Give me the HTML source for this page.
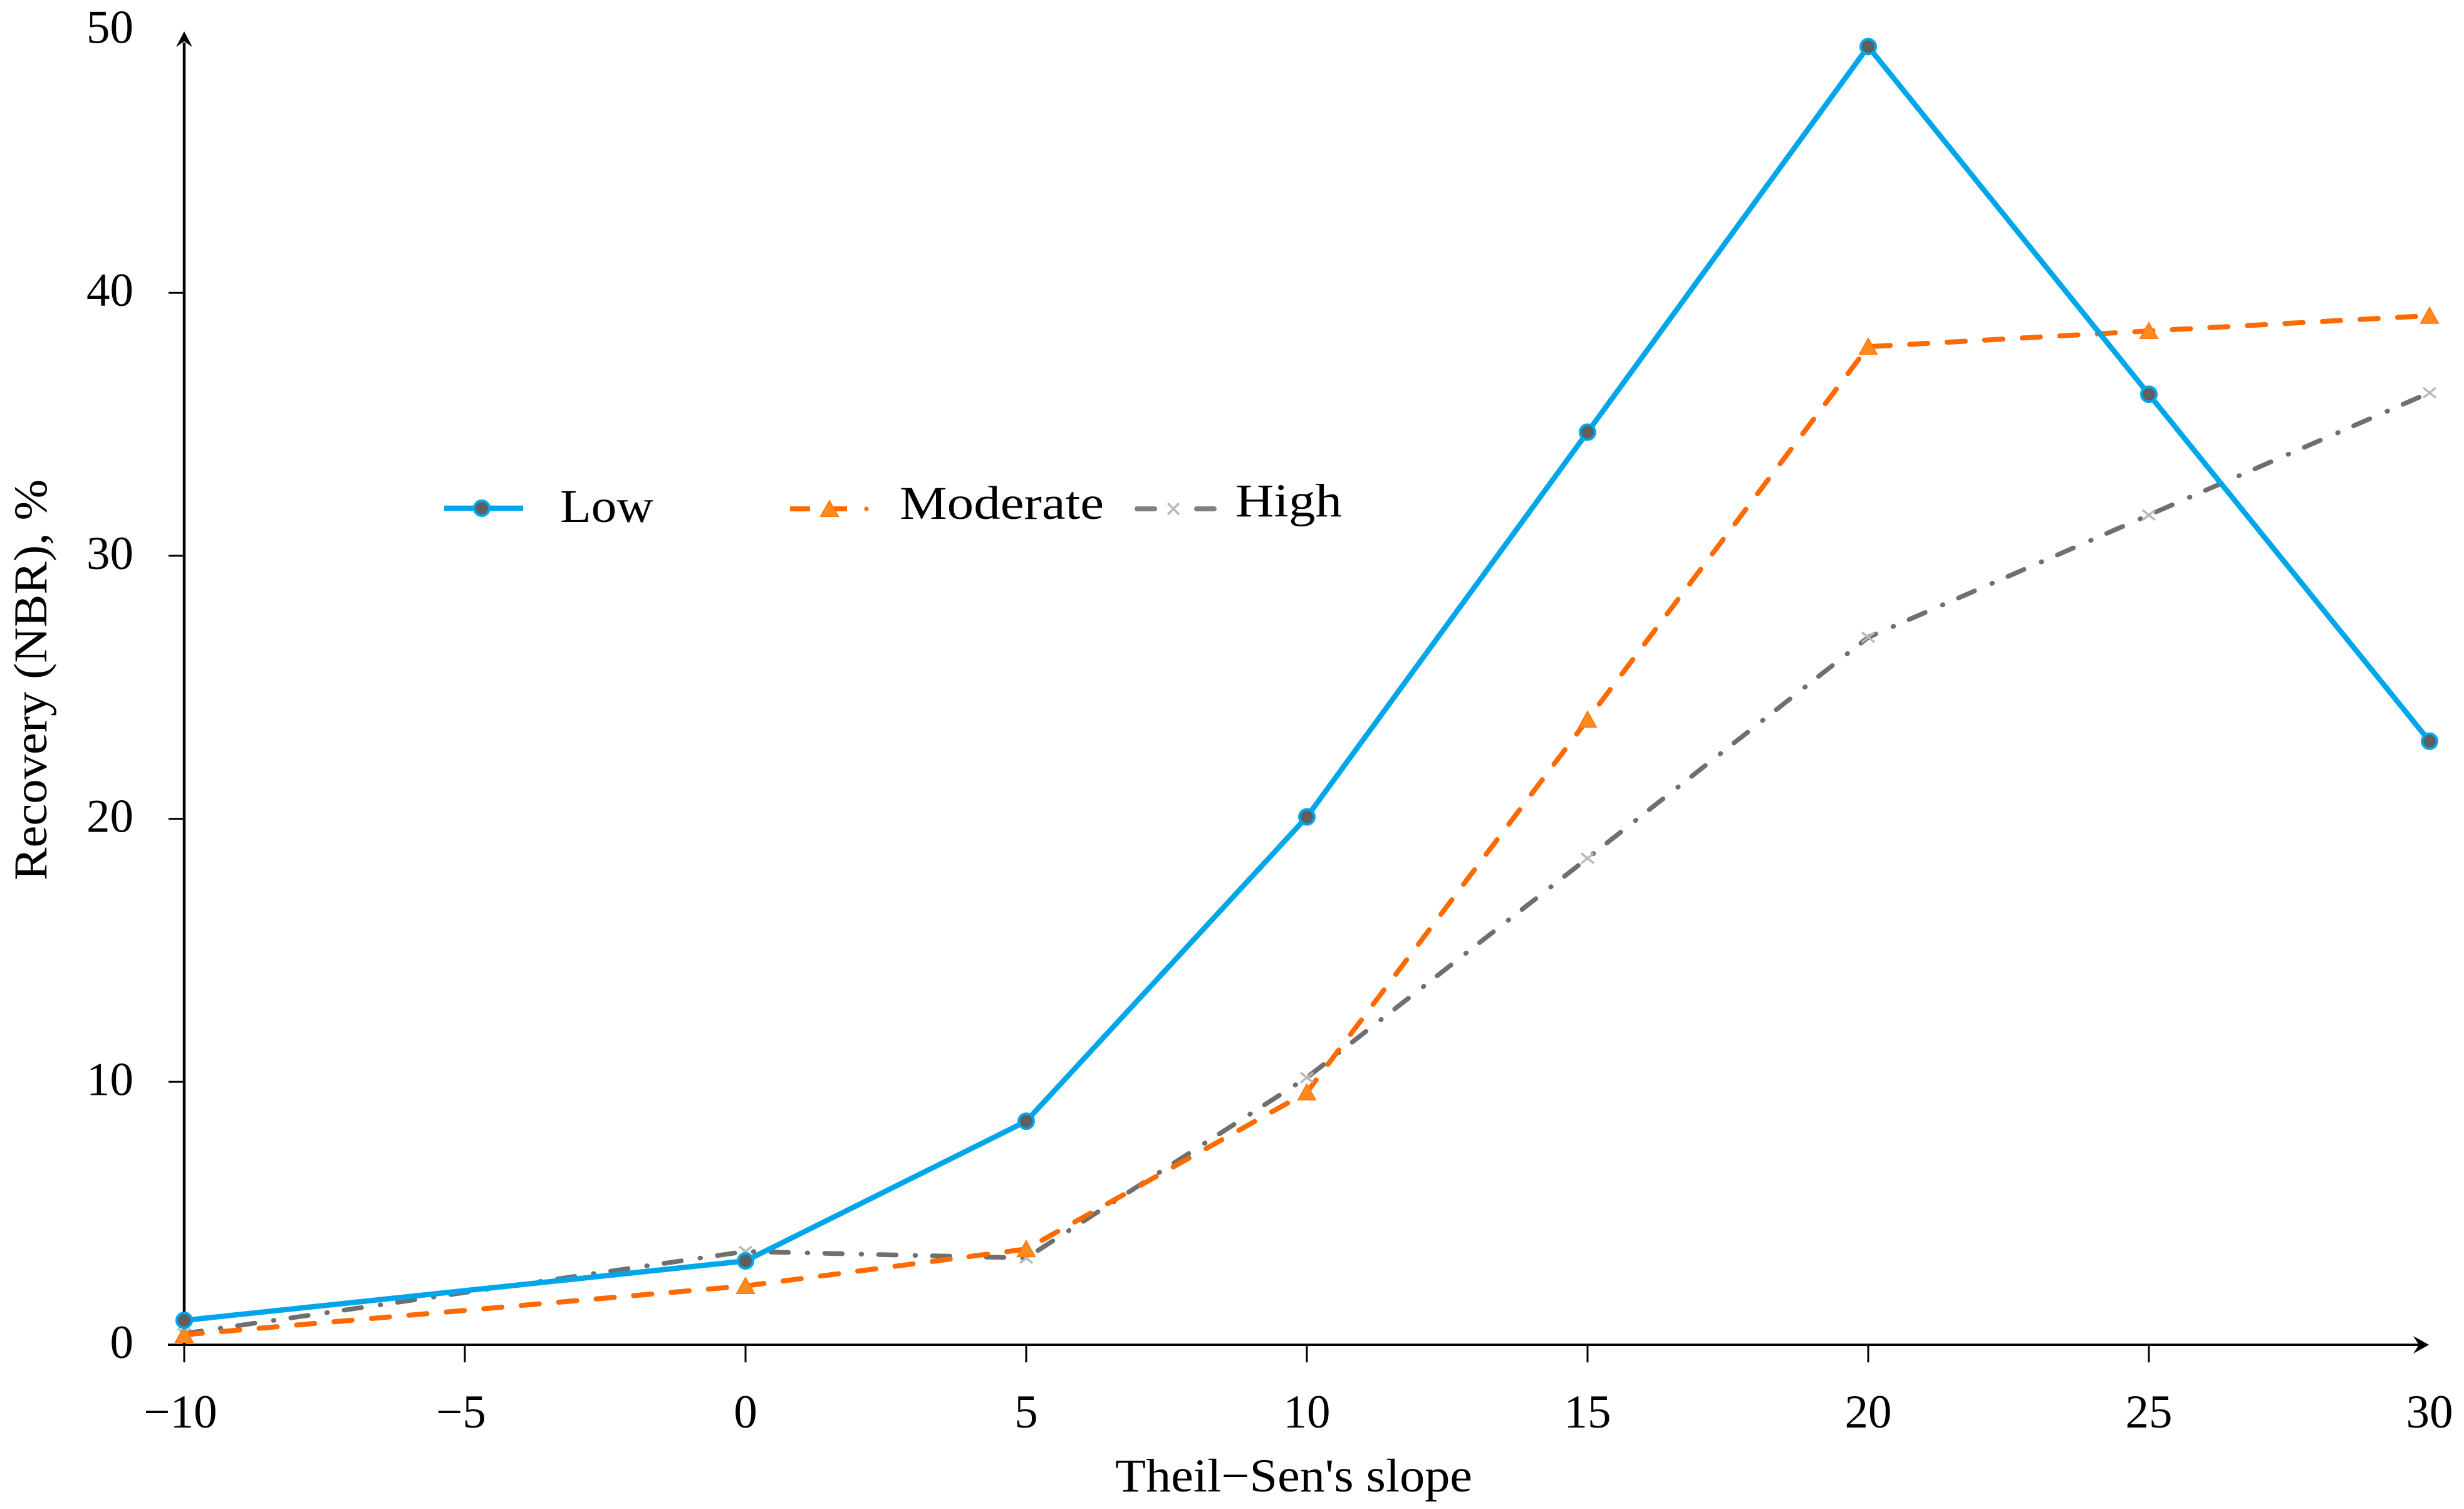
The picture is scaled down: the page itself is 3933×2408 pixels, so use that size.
<!DOCTYPE html>
<html lang="en">
<head>
<meta charset="utf-8">
<title>Recovery (NBR) vs Theil–Sen's slope</title>
<style>
  html, body { margin: 0; padding: 0; background: #ffffff; }
  body { width: 3933px; height: 2408px; overflow: hidden; }
  svg { display: block; }
  text { font-family: "Liberation Serif", serif; font-size: 75px; fill: #000000; }
</style>
</head>
<body>
<svg id="chart" xmlns="http://www.w3.org/2000/svg" width="3933" height="2408" viewBox="0 0 3933 2408">
  <rect x="0" y="0" width="3933" height="2408" fill="#ffffff"/>
  <g id="ticks"></g>
  <g id="tick-labels"></g>
  <line x1="294" y1="68" x2="294" y2="2148" stroke="#000" stroke-width="4.5"/>
  <polygon points="294,50 307,75 294,66 281,75" fill="#000"/>
  <line x1="268" y1="2146" x2="3862" y2="2146" stroke="#000" stroke-width="4"/>
  <polygon points="3877,2146 3852,2132 3861,2146 3852,2160" fill="#000"/>
  <g id="series"></g>
  <text x="1780" y="2380" textLength="570" lengthAdjust="spacingAndGlyphs">Theil−Sen's slope</text>
  <text transform="translate(74,1405) rotate(-90)" x="0" y="0" textLength="640" lengthAdjust="spacingAndGlyphs">Recovery (NBR), %</text>

  <g>
    <line x1="709" y1="811" x2="835" y2="811" stroke="#00a6ea" stroke-width="8.5"/>
    <circle cx="769" cy="811" r="12" fill="#5f5f5f" stroke="#00a6ea" stroke-width="4"/>
    <text x="894" y="833" textLength="149" lengthAdjust="spacingAndGlyphs">Low</text>
  </g>
  <g>
    <line x1="1261" y1="812" x2="1293" y2="812" stroke="#ff6a00" stroke-width="8"/>
    <line x1="1322" y1="812" x2="1352" y2="812" stroke="#ff6a00" stroke-width="8"/>
    <circle cx="1383" cy="812" r="3.5" fill="#ff6a00"/>
    <polygon points="1324,799 1338,824 1310,824" fill="#ff8a20" stroke="#ff7a10" stroke-width="2"/>
    <text x="1436" y="828" textLength="326" lengthAdjust="spacingAndGlyphs">Moderate</text>
  </g>
  <g>
    <line x1="1815" y1="812" x2="1843" y2="812" stroke="#7f7f7f" stroke-width="8" stroke-linecap="round"/>
    <line x1="1910" y1="812" x2="1938" y2="812" stroke="#7f7f7f" stroke-width="8" stroke-linecap="round"/>
    <path d="M1864,803 L1882,821 M1882,803 L1864,821" stroke="#b8b8b8" stroke-width="3.5" fill="none"/>
    <text x="1972" y="824" textLength="170" lengthAdjust="spacingAndGlyphs">High</text>
  </g>
</svg>
<script>
const slopeCategories = [-10, 0, 5, 10, 15, 20, 25, 30];
const lowValues = [0.93, 3.19, 8.5, 20.07, 34.7, 49.36, 36.14, 22.95];
const moderateValues = [0.38, 2.24, 3.64, 9.6, 23.77, 37.95, 38.55, 39.13];
const highValues = [0.43, 3.55, 3.3, 10.16, 18.5, 26.9, 31.55, 36.2];
const xTickValues = [-10, -5, 0, 5, 10, 15, 20, 25];
const xTickLabels = ['−10', '−5', '0', '5', '10', '15', '20', '25', '30'];
const xLabelValues = [-10, -5, 0, 5, 10, 15, 20, 25, 30];
const yTickValues = [0, 10, 20, 30, 40];
const yLabelValues = [0, 10, 20, 30, 40, 50];

function xScale(v) { return 294 + (v + 10) * 89.6; }
function yScale(v) { return 2146 - v * 41.97; }

const SVGNS = 'http://www.w3.org/2000/svg';
function make(tag, parent) {
  const node = document.createElementNS(SVGNS, tag);
  parent.appendChild(node);
  return node;
}

const tickGroup = document.getElementById('ticks');
const labelGroup = document.getElementById('tick-labels');
const seriesGroup = document.getElementById('series');

xTickValues.forEach(function (v) {
  const t = make('line', tickGroup);
  
  
  t.setAttribute('x1', xScale(v));
  t.setAttribute('x2', xScale(v));
  t.setAttribute('y1', yScale(0));
  t.setAttribute('y2', yScale(0) + 28);
  t.setAttribute('stroke', '#000');
  t.setAttribute('stroke-width', '3');
});
yTickValues.forEach(function (v) {
  const t = make('line', tickGroup);
  
  
  t.setAttribute('x1', 269);
  t.setAttribute('x2', 294);
  t.setAttribute('y1', yScale(v));
  t.setAttribute('y2', yScale(v));
  t.setAttribute('stroke', '#000');
  t.setAttribute('stroke-width', '3');
});
xLabelValues.forEach(function (v, i) {
  const t = make('text', labelGroup);
  
  
  t.setAttribute('x', xScale(v) - (v < 0 ? 6 : 0));
  t.setAttribute('y', 2278);
  t.setAttribute('text-anchor', 'middle');
  t.textContent = xTickLabels[i];
});
yLabelValues.forEach(function (v) {
  const t = make('text', labelGroup);
  
  
  t.setAttribute('x', 213);
  t.setAttribute('y', yScale(v) + 21);
  t.setAttribute('text-anchor', 'end');
  t.textContent = String(v);
});

function pointsFor(values) {
  return values.map(function (v, i) {
    return xScale(slopeCategories[i]) + ',' + yScale(v);
  }).join(' ');
}

const highLine = make('polyline', seriesGroup);


highLine.setAttribute('points', pointsFor(highValues));
highLine.setAttribute('fill', 'none');
highLine.setAttribute('stroke', '#6f6f6f');
highLine.setAttribute('stroke-width', '7.5');
highLine.setAttribute('stroke-linecap', 'round');
highLine.setAttribute('stroke-dasharray', '28 30 1 27');

const moderateLine = make('polyline', seriesGroup);


moderateLine.setAttribute('points', pointsFor(moderateValues));
moderateLine.setAttribute('fill', 'none');
moderateLine.setAttribute('stroke', '#ff6a00');
moderateLine.setAttribute('stroke-width', '8');
moderateLine.setAttribute('stroke-linecap', 'round');
moderateLine.setAttribute('stroke-dasharray', '29 31');

const lowLine = make('polyline', seriesGroup);


lowLine.setAttribute('points', pointsFor(lowValues));
lowLine.setAttribute('fill', 'none');
lowLine.setAttribute('stroke', '#00a6ea');
lowLine.setAttribute('stroke-width', '8.5');

highValues.forEach(function (v, i) {
  const px = xScale(slopeCategories[i]);
  const py = yScale(v);
  const m = make('path', seriesGroup);
  
  
  m.setAttribute('d', 'M' + (px - 10) + ',' + (py - 8) + ' L' + (px + 10) + ',' + (py + 8) + ' M' + (px + 10) + ',' + (py - 8) + ' L' + (px - 10) + ',' + (py + 8));
  m.setAttribute('stroke', '#b8b8b8');
  m.setAttribute('stroke-width', '3.5');
  m.setAttribute('fill', 'none');
});
moderateValues.forEach(function (v, i) {
  const px = xScale(slopeCategories[i]);
  const py = yScale(v);
  const m = make('polygon', seriesGroup);
  
  
  m.setAttribute('points', px + ',' + (py - 13) + ' ' + (px + 14) + ',' + (py + 12) + ' ' + (px - 14) + ',' + (py + 12));
  m.setAttribute('fill', '#ff8a20');
  m.setAttribute('stroke', '#ff7a10');
  m.setAttribute('stroke-width', '2');
});
lowValues.forEach(function (v, i) {
  const m = make('circle', seriesGroup);
  
  
  m.setAttribute('cx', xScale(slopeCategories[i]));
  m.setAttribute('cy', yScale(v));
  m.setAttribute('r', '12');
  m.setAttribute('fill', '#5f5f5f');
  m.setAttribute('stroke', '#00a6ea');
  m.setAttribute('stroke-width', '4');
});
</script>
</body>
</html>
